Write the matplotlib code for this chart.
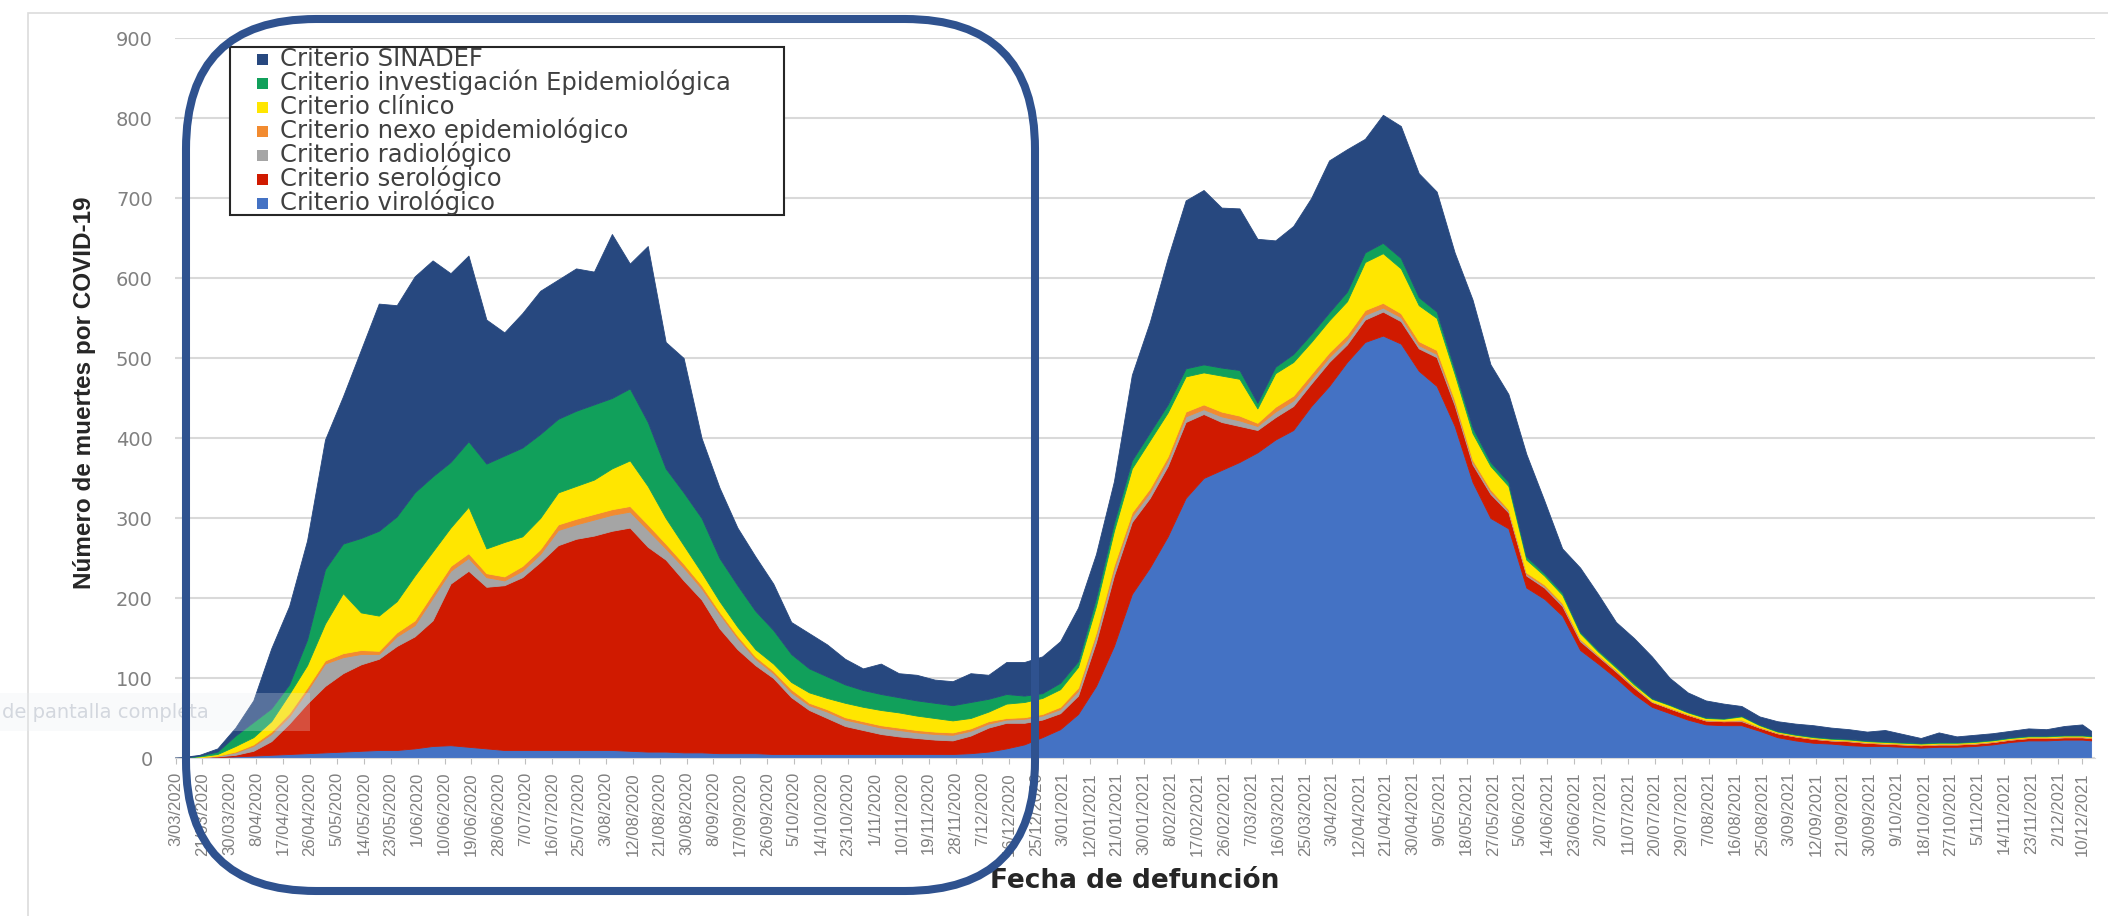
import numpy as np
import pandas as pd
import matplotlib
matplotlib.use("Agg")
import matplotlib.pyplot as plt
from matplotlib.patches import FancyBboxPatch, Rectangle
from matplotlib.transforms import IdentityTransform

# eje de categorias: dias desde el 12/03/2020 (la primera categoria es el 3/03/2020)
# un punto cada 6 dias
dias = np.append(np.arange(-4, 639, 6), 641)

virologico = [0, 0, 1, 1, 2, 3, 4, 5, 6, 7,
              8, 9, 10, 10, 12, 15, 16, 14, 12, 10,
              10, 10, 10, 10, 10, 10, 9, 8, 8, 7,
              7, 6, 6, 6, 5, 5, 5, 5, 5, 5,
              5, 5, 5, 5, 5, 6, 8, 12, 17, 26,
              36, 55, 90, 140, 205, 238, 277, 325, 350, 360,
              370, 382, 398, 410, 440, 465, 495, 520, 528, 518,
              484, 465, 415, 345, 300, 287, 213, 199, 178, 135,
              118, 100, 80, 64, 56, 48, 42, 41, 41, 34,
              26, 22, 19, 18, 16, 15, 15, 14, 13, 14,
              14, 15, 17, 20, 22, 22, 23, 23, 22]
serologico = [0, 0, 0, 1, 2, 6, 17, 38, 62, 83,
              98, 108, 114, 130, 140, 157, 202, 220, 202, 206,
              216, 235, 256, 264, 268, 274, 279, 256, 240, 215,
              191, 156, 130, 110, 95, 71, 55, 45, 35, 30,
              25, 22, 20, 18, 17, 22, 30, 32, 27, 22,
              20, 23, 55, 88, 90, 87, 88, 95, 80, 60,
              45, 28, 28, 30, 28, 30, 22, 28, 30, 28,
              28, 36, 26, 22, 30, 20, 15, 14, 12, 11,
              9, 8, 8, 6, 6, 6, 5, 5, 5, 4,
              5, 5, 5, 4, 5, 4, 3, 3, 3, 3,
              3, 3, 3, 3, 3, 3, 3, 3, 3]
radiologico = [0, 0, 0, 1, 3, 6, 9, 9, 16, 28,
               20, 13, 6, 12, 14, 28, 16, 16, 12, 6,
               8, 10, 19, 18, 20, 20, 20, 21, 14, 16,
               14, 18, 14, 8, 6, 6, 6, 8, 8, 8,
               8, 8, 7, 7, 7, 6, 5, 4, 5, 5,
               5, 6, 8, 8, 7, 7, 7, 7, 6, 7,
               7, 5, 7, 7, 6, 6, 6, 6, 5, 5,
               4, 4, 3, 3, 3, 2, 2, 2, 2, 2,
               1, 1, 1, 1, 0, 0, 0, 0, 1, 0,
               0, 0, 0, 0, 0, 0, 0, 0, 0, 0,
               0, 0, 0, 0, 0, 0, 0, 0, 0]
nexo = [0, 0, 0, 0, 1, 2, 3, 4, 4, 4,
        5, 5, 4, 5, 6, 6, 6, 6, 5, 5,
        6, 6, 7, 7, 7, 7, 7, 7, 6, 5,
        4, 3, 3, 3, 3, 4, 3, 3, 3, 3,
        3, 3, 3, 3, 3, 3, 3, 2, 2, 2,
        3, 4, 4, 5, 5, 5, 5, 6, 6, 6,
        6, 4, 6, 6, 6, 6, 6, 6, 6, 5,
        5, 5, 4, 3, 3, 2, 2, 2, 2, 1,
        1, 1, 1, 0, 1, 1, 1, 1, 1, 1,
        1, 1, 1, 1, 1, 1, 1, 1, 1, 1,
        1, 1, 1, 1, 1, 1, 1, 1, 1]
clinico = [0, 0, 1, 2, 7, 9, 13, 24, 28, 46,
           75, 47, 44, 39, 56, 52, 48, 58, 31, 43,
           37, 39, 40, 41, 43, 51, 57, 48, 32, 23,
           16, 13, 11, 9, 9, 9, 13, 14, 18, 18,
           19, 19, 18, 17, 15, 13, 12, 18, 19, 20,
           22, 26, 33, 43, 55, 60, 55, 44, 40, 45,
           46, 18, 42, 42, 40, 40, 42, 60, 62, 56,
           45, 40, 32, 33, 29, 29, 16, 11, 10, 7,
           4, 3, 2, 3, 3, 2, 2, 2, 4, 2,
           1, 1, 1, 1, 1, 1, 1, 1, 1, 1,
           1, 1, 1, 1, 1, 1, 1, 1, 1]
investigacion = [0, 0, 1, 3, 13, 19, 16, 12, 32, 68,
                 62, 93, 106, 106, 104, 94, 82, 82, 106, 108,
                 111, 105, 92, 94, 94, 88, 90, 80, 62, 66,
                 68, 54, 52, 48, 42, 35, 30, 27, 23, 21,
                 20, 19, 19, 19, 19, 20, 16, 12, 8, 6,
                 8, 7, 10, 10, 10, 10, 10, 10, 10, 10,
                 11, 7, 8, 10, 10, 10, 12, 12, 13, 13,
                 10, 8, 6, 7, 5, 5, 4, 3, 3, 2,
                 2, 2, 2, 1, 1, 1, 1, 1, 1, 1,
                 1, 1, 1, 1, 1, 1, 1, 1, 1, 1,
                 1, 1, 1, 1, 1, 1, 1, 1, 1]
sinadef = [0, 1, 1, 4, 10, 27, 75, 98, 124, 162,
           184, 235, 284, 264, 270, 270, 236, 232, 180, 154,
           168, 179, 174, 178, 166, 205, 156, 220, 158, 168,
           100, 88, 72, 68, 58, 40, 44, 40, 32, 27,
           38, 30, 32, 29, 30, 36, 30, 40, 42, 46,
           52, 67, 55, 52, 107, 138, 183, 210, 218, 200,
           202, 205, 158, 160, 170, 190, 178, 142, 160, 165,
           155, 150, 146, 160, 122, 110, 128, 91, 55, 80,
           70, 55, 56, 52, 33, 24, 21, 18, 12, 10,
           12, 13, 14, 13, 12, 11, 14, 10, 6, 12,
           7, 8, 8, 8, 9, 8, 11, 13, 6]

series = [virologico, serologico, radiologico, nexo, clinico, investigacion, sinadef]
colores = ["#4472C4", "#D01A00", "#A5A5A5", "#F28B30", "#FFE600", "#11A05B", "#27487F"]
nombres = ["Criterio virológico", "Criterio serológico", "Criterio radiológico",
           "Criterio nexo epidemiológico", "Criterio clínico",
           "Criterio investigación Epidemiológica", "Criterio SINADEF"]

# etiquetas del eje x: cada 9 categorias, mas la ultima fecha
tick_pos = [0] + list(range(9, 631, 9)) + [638]
fechas = pd.Timestamp("2020-03-12") + pd.to_timedelta(tick_pos, unit="D")
etiquetas = [f"{f.day}/{f.month:02d}/{f.year}" for f in fechas]
etiquetas[0] = "3/03/2020"

W, H = 2108, 916
fig = plt.figure(figsize=(W / 100, H / 100), dpi=100)
ax = fig.add_axes([175 / W, (H - 758) / H, (2095 - 175) / W, 720 / H])

ax.stackplot(dias, series, colors=colores, lw=0.6, edgecolor="face")

ax.set_xlim(-0.2, 642.3)
ax.set_ylim(0, 900)
ax.set_yticks(range(0, 901, 100))
ax.grid(axis="y", color="#d9d9d9", lw=1.5)
ax.set_axisbelow(True)
for s in ["top", "right", "left"]:
    ax.spines[s].set_visible(False)
ax.spines["bottom"].set_color("#d9d9d9")

ax.set_xticks(tick_pos, etiquetas, rotation=90, fontfamily="Liberation Sans")
ax.tick_params(axis="x", length=4, color="#bfbfbf", pad=6, labelsize=12, labelcolor="#808080")
ax.tick_params(axis="y", length=0, pad=16, labelsize=14, labelcolor="#808080")

ax.set_xlabel("Fecha de defunción", fontsize=19, fontweight="bold", color="#262626")
ax.xaxis.set_label_coords(0.5, (758 - 888) / 720)
ax.xaxis.label.set_va("baseline")
ax.set_ylabel("Número de muertes por COVID-19", fontsize=17.5, fontweight="bold",
              color="#262626", fontfamily="Liberation Sans")
ax.yaxis.set_label_coords((85 - 175) / 1920, (758 - 393) / 720)
ax.yaxis.label.set_va("center")

px = IdentityTransform()

# marco gris del area del grafico
fig.add_artist(Rectangle((28, -50), 2300, H - 13 + 50, transform=px, fill=False,
                         ec="#dcdcdc", lw=1.2, zorder=-1))

# leyenda dibujada a mano (recuadro fijo)
fig.add_artist(Rectangle((230, H - 215), 554, 168, transform=px, fc="white",
                         ec="#262626", lw=1.5, zorder=8))
for i, (nom, col) in enumerate(zip(nombres[::-1], colores[::-1])):
    yc = 58 + 24 * i
    fig.add_artist(Rectangle((257, H - yc - 6.5), 11, 11, transform=px,
                             fc=col, ec="none", zorder=9))
    fig.text(280, H - yc - 8, nom, transform=px, fontsize=17.5, color="#404040",
             va="baseline", zorder=9)

# franja de aviso de la captura
fig.add_artist(Rectangle((0, H - 731), 310, 38, transform=px, fc="#e9edf3",
                         ec="none", alpha=0.25, zorder=9))
fig.text(2, H - 713, "de pantalla completa", transform=px, fontsize=14,
         color="#d3d7de", va="center", zorder=9)

# recuadro azul redondeado
fig.add_artist(FancyBboxPatch((186, H - 891), 1035 - 186, 891 - 19,
                              boxstyle="round,pad=0,rounding_size=130", transform=px,
                              fill=False, ec="#2F528F", lw=5.8, zorder=10))

fig.savefig("out.png", dpi=100)
